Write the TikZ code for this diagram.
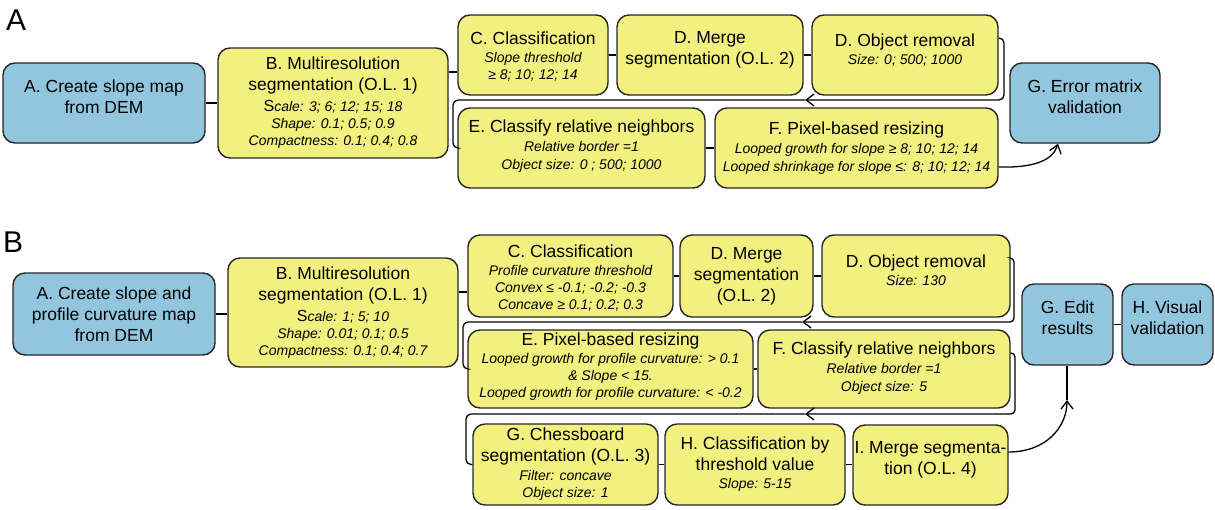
\documentclass[tikz,border=0pt]{standalone}
\usepackage{fontspec}
\setmainfont{Liberation Sans}
\usetikzlibrary{arrows.meta,fit}
\definecolor{bxblue}{RGB}{146,197,222}
\definecolor{bxyel}{RGB}{242,240,126}
\definecolor{bxedge}{RGB}{38,38,38}
\newcommand\subtx{\fontsize{14}{17}\selectfont\itshape}
\newcommand\bigS{{\fontsize{16}{17}\selectfont S}}
\begin{document}
\begin{tikzpicture}[x=1pt,y=-1pt,
 box/.style={draw=bxedge, line width=1.4pt, rounded corners=12pt, inner sep=0pt},
 ybox/.style={box, fill=bxyel},
 bbox/.style={box, fill=bxblue},
 tx/.style={align=center, font=\fontsize{17.5}{21}\selectfont, inner sep=0pt},
 conn/.style={draw=black, line width=1.3pt},
 arr/.style={conn, -{Straight Barb[length=8pt,width=12pt]}},
 plabel/.style={anchor=base west, inner sep=0pt, font=\fontsize{30}{30}\selectfont}
]
\useasboundingbox (0,0) rectangle (1215,509);

% ---------- Panel A ----------
\node[plabel] (lblA) at (6,30) {A};
\node[bbox, fit={(3,63)(205,143)}, label={[tx,yshift=6pt]center:{A. Create slope map\\from DEM}}] (aA) {};
\node[ybox, fit={(218,48)(448,158)}, label={[tx]center:{B. Multiresolution\\segmentation (O.L. 1)\\{\bigS\subtx cale: 3; 6; 12; 15; 18}\\[-4pt]{\subtx Shape: 0.1; 0.5; 0.9}\\[-4pt]{\subtx Compactness: 0.1; 0.4; 0.8}}}] (aB) {};
\node[ybox, fit={(458,15)(608,95)}, label={[tx,yshift=-2pt]center:{C. Classification\\[-3pt]{\subtx Slope threshold}\\[-4pt]{\subtx ≥ 8; 10; 12; 14}}}] (aC) {};
\node[ybox, fit={(617,15)(803,95)}, label={[tx,yshift=5pt]center:{D. Merge\\segmentation (O.L. 2)}}] (aD) {};
\node[ybox, fit={(812,15)(998,95)}, label={[tx,yshift=5pt]center:{D. Object removal\\[-3pt]{\subtx Size: 0; 500; 1000}}}] (aD2) {};
\node[bbox, fit={(1010,63)(1160,143)}, label={[tx,yshift=6pt]center:{G. Error matrix\\validation}}] (aG) {};
\node[ybox, fit={(458,108)(705,188)}, label={[tx,yshift=2pt]center:{E. Classify relative neighbors\\[-2pt]{\subtx Relative border =1}\\[-3pt]{\subtx Object size: 0 ; 500; 1000}}}] (aE) {};
\node[ybox, fit={(715,108)(998,188)}, label={[tx]center:{F. Pixel-based resizing\\[-2pt]{\subtx Looped growth for slope ≥ 8; 10; 12; 14}\\[-3pt]{\subtx Looped shrinkage for slope ≤: 8; 10; 12; 14}}}] (aF) {};

\draw[conn] (aA.east) -- (aB.west);
\draw[conn] ([yshift=-17pt]aC.west) -- ([yshift=-17pt]aC.west -| aB.east);
\draw[conn] (aC.east) -- (aD.west);
\draw[conn] (aD.east) -- (aD2.west);
\coordinate (aM) at (805,100);
\draw[arr, rounded corners=5pt] ([yshift=17pt]aD2.east) -| (1004,100) -- (aM);
\draw[conn, rounded corners=5pt] (aM) -| (453,148) -- (aE.west);
\draw[conn] (aE.east) -- (aF.west);
\draw[arr] ([yshift=-19pt]aF.east) .. controls (1035,168) and (1053,160) .. ([xshift=-27pt]aG.south);

% ---------- Panel B ----------
\node[plabel] (lblB) at (3,252) {B};
\node[bbox, fit={(13,273)(215,355)}, label={[tx]center:{A. Create slope and\\profile curvature map\\from DEM}}] (bA) {};
\node[ybox, fit={(228,258)(458,367)}, label={[tx]center:{B. Multiresolution\\segmentation (O.L. 1)\\{\bigS\subtx cale: 1; 5; 10}\\[-4pt]{\subtx Shape: 0.01; 0.1; 0.5}\\[-4pt]{\subtx Compactness: 0.1; 0.4; 0.7}}}] (bB) {};
\node[ybox, fit={(468,235)(673,317)}, label={[tx,yshift=-2pt]center:{C. Classification\\[-3pt]{\subtx Profile curvature threshold}\\[-4pt]{\subtx Convex ≤ -0.1; -0.2; -0.3}\\[-4pt]{\subtx Concave ≥ 0.1; 0.2; 0.3}}}] (bC) {};
\node[ybox, fit={(680,235)(813,317)}, label={[tx]center:{D. Merge\\segmentation\\(O.L. 2)}}] (bD) {};
\node[ybox, fit={(822,235)(1010,317)}, label={[tx,yshift=6pt]center:{D. Object removal\\[-3pt]{\subtx Size: 130}}}] (bD2) {};
\node[bbox, fit={(1022,284)(1113,365)}, label={[tx,yshift=7pt]center:{G. Edit\\results}}] (bG) {};
\node[bbox, fit={(1122,284)(1213,365)}, label={[tx,yshift=7pt]center:{H. Visual\\validation}}] (bH) {};
\node[ybox, fit={(468,330)(753,408)}, label={[tx,yshift=2pt]center:{E. Pixel-based resizing\\[-3pt]{\subtx Looped growth for profile curvature: > 0.1}\\[-4pt]{\subtx \& Slope < 15.}\\[-4pt]{\subtx Looped growth for profile curvature: < -0.2}}}] (bE) {};
\node[ybox, fit={(758,330)(1010,408)}, label={[tx,yshift=1pt]center:{F. Classify relative neighbors\\[-2pt]{\subtx Relative border =1}\\[-3pt]{\subtx Object size: 5}}}] (bF) {};
\node[ybox, fit={(473,424)(658,505)}, label={[tx]center:{G. Chessboard\\segmentation (O.L. 3)\\[-2pt]{\subtx Filter: concave}\\[-4pt]{\subtx Object size: 1}}}] (bG2) {};
\node[ybox, fit={(665,424)(845,505)}, label={[tx]center:{H. Classification by\\threshold value\\[-3pt]{\subtx Slope: 5-15}}}] (bH2) {};
\node[ybox, fit={(853,425)(1008,505)}, label={[tx,yshift=5pt]center:{I. Merge segmenta-\\tion (O.L. 4)}}] (bI) {};

\draw[conn] (bA.east) -- (bA.east -| bB.west);
\draw[conn] ([yshift=-16pt]bC.west) -- ([yshift=-16pt]bC.west -| bB.east);
\draw[conn] (bC.east) -- (bD.west);
\draw[conn] (bD.east) -- (bD2.west);
\coordinate (bM1) at (802,322);
\draw[arr, rounded corners=4pt] ([yshift=18pt]bD2.east) -| (1014,322) -- (bM1);
\draw[conn, rounded corners=5pt] (bM1) -| (463,369) -- (bE.west);
\draw[conn] (bE.east) -- (bF.west);
\coordinate (bM2) at (805,414);
\draw[arr, rounded corners=4pt] ([yshift=16pt]bF.east) -| (1015,414) -- (bM2);
\draw[conn, rounded corners=5pt] (bM2) -| (466,464.5) -- (bG2.west);
\draw[conn] (bG2.east) -- (bG2.east -| bH2.west);
\draw[conn] (bH2.east) -- (bH2.east -| bI.west);
\draw[conn] (bG.east) -- (bH.west);
\coordinate (bM3) at (1067,400);
\draw[arr] ([yshift=13pt]bI.east) .. controls (1045,452) and (1067,428) .. (bM3);
\draw[conn] (bM3) -- (bM3 |- bG.south);
\end{tikzpicture}
\end{document}
